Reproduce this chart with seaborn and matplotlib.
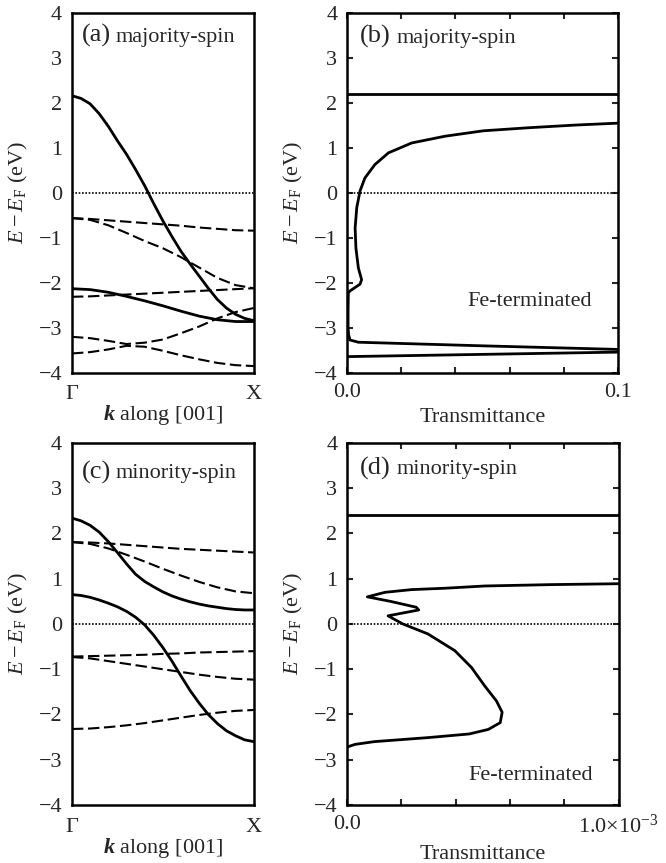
import numpy as np
import pandas as pd
import matplotlib
matplotlib.use("Agg")
import matplotlib.pyplot as plt
import seaborn as sns

# k along [001], fraction of Gamma-X
k_fine = [0.0, 0.05, 0.1, 0.15, 0.2, 0.25, 0.3, 0.35, 0.4, 0.45, 0.5,
          0.55, 0.6, 0.65, 0.7, 0.75, 0.8, 0.85, 0.9, 0.95, 1.0]
k_coarse = [0.0, 0.1, 0.2, 0.3, 0.4, 0.5, 0.6, 0.7, 0.8, 0.9, 1.0]

# (a) majority-spin bands (eV)
maj_solid_fine = [
    [2.16, 2.10, 1.98, 1.76, 1.48, 1.16, 0.86, 0.52, 0.16, -0.24, -0.62,
     -0.97, -1.30, -1.58, -1.85, -2.12, -2.37, -2.56, -2.70, -2.79, -2.84],
]
maj_solid_coarse = [
    [-2.13, -2.15, -2.21, -2.30, -2.40, -2.51, -2.63, -2.74, -2.82, -2.86, -2.86],
]
maj_dashed = [
    [-0.56, -0.58, -0.61, -0.64, -0.67, -0.70, -0.73, -0.77, -0.80, -0.83, -0.84],
    [-0.56, -0.60, -0.72, -0.89, -1.07, -1.23, -1.43, -1.66, -1.89, -2.05, -2.12],
    [-2.31, -2.30, -2.28, -2.26, -2.24, -2.22, -2.20, -2.18, -2.16, -2.14, -2.12],
    [-3.20, -3.23, -3.29, -3.36, -3.33, -3.26, -3.12, -2.97, -2.79, -2.65, -2.56],
    [-3.57, -3.54, -3.48, -3.40, -3.42, -3.51, -3.61, -3.70, -3.78, -3.83, -3.85],
]

# (c) minority-spin bands (eV)
min_solid_fine = [
    [2.34, 2.28, 2.18, 2.03, 1.82, 1.58, 1.33, 1.10, 0.94, 0.82, 0.71,
     0.62, 0.55, 0.49, 0.44, 0.40, 0.37, 0.34, 0.32, 0.31, 0.31],
    [0.65, 0.63, 0.59, 0.53, 0.46, 0.38, 0.28, 0.15, -0.02, -0.25, -0.52,
     -0.82, -1.15, -1.47, -1.75, -2.00, -2.20, -2.36, -2.47, -2.56, -2.60],
]
min_solid_coarse = []
min_dashed = [
    [1.81, 1.80, 1.78, 1.75, 1.72, 1.69, 1.66, 1.64, 1.62, 1.60, 1.58],
    [1.81, 1.77, 1.67, 1.53, 1.38, 1.22, 1.07, 0.93, 0.81, 0.72, 0.68],
    [-0.72, -0.71, -0.70, -0.69, -0.68, -0.66, -0.65, -0.63, -0.62, -0.61, -0.60],
    [-0.73, -0.76, -0.82, -0.88, -0.94, -1.00, -1.06, -1.12, -1.17, -1.21, -1.23],
    [-2.32, -2.31, -2.28, -2.24, -2.19, -2.13, -2.07, -2.01, -1.96, -1.92, -1.90],
]

# (b) majority-spin transmittance, Fe-terminated
trans_b = [0.1, 0.085, 0.0675, 0.0503, 0.0362, 0.0239, 0.0153, 0.0103, 0.0066,
           0.0048, 0.0036, 0.0030, 0.0033, 0.0042, 0.0054, 0.0048, 0.0011,
           0.0005, 0.0004, 0.0004, 0.0006, 0.0011, 0.0042, 0.05, 0.1]
energy_b = [1.55, 1.51, 1.45, 1.38, 1.26, 1.11, 0.89, 0.63, 0.33,
            0.04, -0.33, -0.78, -1.23, -1.67, -1.93, -2.03, -2.18,
            -2.22, -2.60, -3.00, -3.15, -3.27, -3.32, -3.40, -3.48]
trans_b_low = [0.0, 0.1]
energy_b_low = [-3.64, -3.54]
energy_b_top = 2.2

# (d) minority-spin transmittance, in units of 1e-3
trans_d_e3 = [1.0, 0.75, 0.507, 0.36, 0.238, 0.14, 0.075, 0.16, 0.255, 0.264,
              0.151, 0.206, 0.298, 0.397, 0.458, 0.507, 0.55, 0.571, 0.564,
              0.52, 0.45, 0.3, 0.1, 0.03, 0.0]
energy_d = [0.89, 0.87, 0.84, 0.79, 0.76, 0.70, 0.60, 0.50, 0.37, 0.31,
            0.18, 0.0, -0.22, -0.59, -0.96, -1.37, -1.70, -1.95, -2.18,
            -2.33, -2.43, -2.51, -2.60, -2.66, -2.72]
energy_d_top = 2.4

sns.set_style("white")
plt.rcParams['font.family'] = ['Liberation Serif', 'DejaVu Serif']
plt.rcParams['mathtext.fontset'] = 'custom'
plt.rcParams['mathtext.rm'] = 'Liberation Serif'
plt.rcParams['mathtext.it'] = 'Liberation Serif:italic'
plt.rcParams['mathtext.bf'] = 'Liberation Serif:italic:bold'
plt.rcParams['axes.unicode_minus'] = True

fig = plt.figure(figsize=(6.66, 8.63), dpi=100)
ax_a = fig.add_axes([0.108, 0.568, 0.273, 0.417])
ax_b = fig.add_axes([0.521, 0.568, 0.407, 0.417])
ax_c = fig.add_axes([0.108, 0.0672, 0.273, 0.4195])
ax_d = fig.add_axes([0.521, 0.0672, 0.408, 0.4195])

solid_kw = dict(color='black', lw=2.0)
dash_kw = dict(color='black', lw=1.5, linestyle=(0, (5.5, 2.2)))
ylab = r"$E-E_\mathrm{F}$ (eV)"


def style_axes(ax):
    ax.set_ylim(-4, 4)
    ax.set_yticks(range(-4, 5))
    for s in ax.spines.values():
        s.set_linewidth(1.8)
        s.set_color('black')
    ax.axhline(0, color='black', lw=1.2, linestyle=(0, (1, 1)), zorder=1)
    ax.set_ylabel(ylab, fontsize=16)


def band_panel(ax, solids_fine, solids_coarse, dashes, tag, name, ybase):
    for band in dashes:
        sns.lineplot(x=k_coarse, y=band, ax=ax, estimator=None, sort=False, **dash_kw)
    for band in solids_coarse:
        sns.lineplot(x=k_coarse, y=band, ax=ax, estimator=None, sort=False, **solid_kw)
    for band in solids_fine:
        sns.lineplot(x=k_fine, y=band, ax=ax, estimator=None, sort=False, **solid_kw)
    style_axes(ax)
    ax.set_xlim(0, 1)
    ax.set_xticks([0, 1])
    ax.set_xticklabels(['Γ', 'X'])
    ax.tick_params(length=0, labelsize=16, pad=7)
    ax.tick_params(axis='x', pad=9)
    ax.set_xlabel(r"$\mathbf{k}$ along [001]", fontsize=16)
    ax.yaxis.set_label_coords(-0.23, 0.5)
    ax.xaxis.set_label_coords(0.5, -0.085)
    ax.text(0.055, ybase, tag, transform=ax.transAxes, fontsize=19, va='baseline')
    ax.text(0.238, ybase, name, transform=ax.transAxes, fontsize=16, va='baseline')


def trans_panel(ax, xmax, tag, name, ybase, fe_y):
    style_axes(ax)
    ax.set_xlim(0, xmax)
    ax.set_xticks(np.linspace(0, xmax, 6))
    ax.tick_params(direction='in', length=4, width=1.5, top=True, right=True,
                   bottom=True, left=True, labelsize=16, pad=7)
    ax.set_xlabel("Transmittance", fontsize=16)
    ax.yaxis.set_label_coords(-0.155, 0.5)
    ax.text(0.049, ybase, tag, transform=ax.transAxes, fontsize=19, va='baseline')
    ax.text(0.182, ybase, name, transform=ax.transAxes, fontsize=16, va='baseline')
    ax.text(0.675, fe_y, "Fe-terminated", transform=ax.transAxes, fontsize=16,
            ha='center', va='baseline')


band_panel(ax_a, maj_solid_fine, maj_solid_coarse, maj_dashed,
           "(a)", "majority-spin", 0.92)
band_panel(ax_c, min_solid_fine, min_solid_coarse, min_dashed,
           "(c)", "minority-spin", 0.903)

# (b)
sns.lineplot(x=trans_b, y=energy_b, ax=ax_b, estimator=None, sort=False, **solid_kw)
sns.lineplot(x=trans_b_low, y=energy_b_low, ax=ax_b, estimator=None, sort=False, **solid_kw)
sns.lineplot(x=[0, 0.1], y=[energy_b_top, energy_b_top], ax=ax_b, estimator=None, **solid_kw)
trans_panel(ax_b, 0.1, "(b)", "majority-spin", 0.917, 0.187)
ax_b.set_xticklabels(['0.0', '', '', '', '', '0.1'])
ax_b.xaxis.set_label_coords(0.5, -0.097)

# (d)
trans_d = [t * 1e-3 for t in trans_d_e3]
sns.lineplot(x=trans_d, y=energy_d, ax=ax_d, estimator=None, sort=False, **solid_kw)
sns.lineplot(x=[0, 1e-3], y=[energy_d_top, energy_d_top], ax=ax_d, estimator=None, **solid_kw)
trans_panel(ax_d, 1e-3, "(d)", "minority-spin", 0.914, 0.069)
ax_d.set_xticklabels(['0.0', '', '', '', '', r'1.0$\times$10$^{-3}$'])
ax_d.xaxis.set_label_coords(0.5, -0.111)

for ax in (ax_a, ax_b, ax_c, ax_d):
    if ax.get_legend() is not None:
        ax.get_legend().remove()

fig.savefig("out.png", dpi=100)
